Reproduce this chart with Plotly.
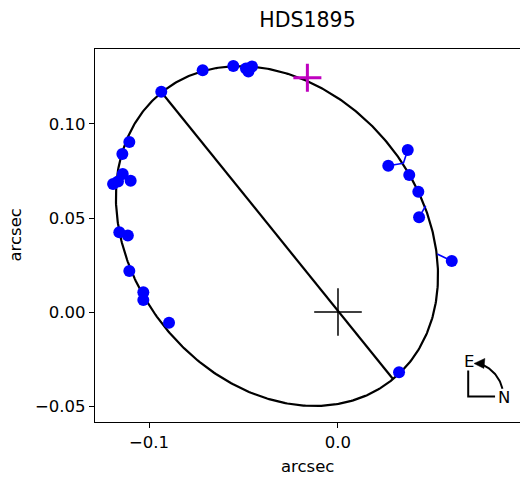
import numpy as np
import plotly.graph_objects as go

# Observations (arcsec)
obs_x = [-0.0935, -0.0716, -0.0554, -0.0487, -0.0474, -0.0455, -0.1104, -0.1141,
         -0.1139, -0.1097, -0.1190, -0.1164, -0.1157, -0.1112, -0.1104, -0.1030,
         -0.1030, -0.0894, 0.0323, 0.0602, 0.0429, 0.0425, 0.0377, 0.0369, 0.0266]
obs_y = [0.1172, 0.1286, 0.1309, 0.1295, 0.1279, 0.1306, 0.0904, 0.0840,
         0.0734, 0.0698, 0.0681, 0.0694, 0.0424, 0.0407, 0.0218, 0.0105,
         0.0064, -0.0057, -0.0321, 0.0271, 0.0504, 0.0640, 0.0729, 0.0862, 0.0778]

# Residual segments: observed -> predicted
res_obs_x = [0.0602, 0.0429, 0.0369, 0.0266]
res_obs_y = [0.0271, 0.0504, 0.0862, 0.0778]
res_pred_x = [0.0525, 0.0464, 0.0346, 0.0346]
res_pred_y = [0.0309, 0.0564, 0.0791, 0.0791]

# Apparent orbit ellipse
ell_center = (-0.0323, 0.0404)
ell_a = 0.0978
ell_b = 0.0766
ell_angle_deg = -52.1

# Line of apsides endpoints
aps_x = [-0.0935, 0.0290]
aps_y = [0.1170, -0.0355]

# Markers
primary = (0.0, 0.0)
current_pos = (-0.0162, 0.1246)

x_ticks = [-0.1, 0.0]
x_ticktext = ["\u22120.1", "0.0"]
y_ticks = [-0.05, 0.0, 0.05, 0.10]
y_ticktext = ["\u22120.05", "0.00", "0.05", "0.10"]

fig = go.Figure()

t = np.linspace(0, 2 * np.pi, 500)
th = np.deg2rad(ell_angle_deg)
ex = ell_center[0] + ell_a * np.cos(t) * np.cos(th) - ell_b * np.sin(t) * np.sin(th)
ey = ell_center[1] + ell_a * np.cos(t) * np.sin(th) + ell_b * np.sin(t) * np.cos(th)
fig.add_trace(go.Scatter(x=ex, y=ey, mode="lines", line=dict(color="black", width=2.2),
                         hoverinfo="skip"))
fig.add_trace(go.Scatter(x=aps_x, y=aps_y, mode="lines", line=dict(color="black", width=2.2)))

rx, ry = [], []
for ox, oy, px, py in zip(res_obs_x, res_obs_y, res_pred_x, res_pred_y):
    rx += [ox, px, None]
    ry += [oy, py, None]
fig.add_trace(go.Scatter(x=rx, y=ry, mode="lines", line=dict(color="blue", width=1.6)))

fig.add_trace(go.Scatter(x=obs_x, y=obs_y, mode="markers",
                         marker=dict(color="blue", size=12, line=dict(width=0))))

fig.add_trace(go.Scatter(x=[primary[0]], y=[primary[1]], mode="markers",
                         marker=dict(symbol="cross-thin", size=34,
                                     line=dict(color="black", width=1.5))))
fig.add_trace(go.Scatter(x=[current_pos[0]], y=[current_pos[1]], mode="markers",
                         marker=dict(symbol="cross-thin", size=20,
                                     line=dict(color="#bf00bf", width=3))))

# Compass (E / N)
cc = (0.0689, -0.0450)
r = 0.0186
phi = np.deg2rad(np.linspace(13, 72, 40))
arc_x = cc[0] + r * np.cos(phi)
arc_y = cc[1] + r * np.sin(phi)
fig.add_trace(go.Scatter(x=arc_x, y=arc_y, mode="lines", line=dict(color="black", width=2)))
fig.add_trace(go.Scatter(x=[cc[0], cc[0], cc[0] + 0.0142], y=[cc[1] + 0.0139, cc[1], cc[1]],
                         mode="lines", line=dict(color="black", width=2)))
fig.add_shape(type="path", xref="x", yref="y",
              path=f"M {0.0720},{-0.0274} L {0.0777},{-0.0247} L {0.0772},{-0.0300} Z",
              fillcolor="black", line=dict(color="black", width=0.5))
fig.add_annotation(x=0.0695, y=-0.0262, text="E", showarrow=False,
                   font=dict(family="DejaVu Sans", size=16.5, color="black"))
fig.add_annotation(x=0.0880, y=-0.0453, text="N", showarrow=False,
                   font=dict(family="DejaVu Sans", size=16.5, color="black"))

fig.update_layout(
    width=520, height=478,
    margin=dict(l=95, r=0, t=49, b=56),
    paper_bgcolor="white", plot_bgcolor="white",
    showlegend=False,
    font=dict(family="DejaVu Sans", size=16.5, color="black"),
    title=dict(text="HDS1895", x=(95 + 520) / 2 / 520, xanchor="center",
               y=1 - 20 / 478, yanchor="middle", yref="container",
               font=dict(size=20.5, color="black")),
)
fig.update_xaxes(range=[-0.12857, 0.0963], tickvals=x_ticks, ticktext=x_ticktext,
                 showgrid=False, zeroline=False, showline=True, mirror=True,
                 linecolor="black", linewidth=1.2, ticks="outside", ticklen=5,
                 tickwidth=1.2, tickcolor="black", tickfont=dict(size=16.5))
fig.update_yaxes(range=[-0.05851, 0.13989], tickvals=y_ticks, ticktext=y_ticktext,
                 showgrid=False, zeroline=False, showline=True, mirror=True,
                 linecolor="black", linewidth=1.2, ticks="outside", ticklen=5,
                 tickwidth=1.2, tickcolor="black", tickfont=dict(size=16.5))
fig.add_annotation(xref="paper", yref="paper", x=0.5, y=(422 - 466) / 373,
                   text="arcsec", showarrow=False, yanchor="middle",
                   font=dict(size=16.5))
fig.add_annotation(xref="paper", yref="paper", x=(15 - 95) / 425, y=0.5,
                   text="arcsec", showarrow=False, textangle=-90, xanchor="center",
                   font=dict(size=16.5))

fig.write_html("out.html")
